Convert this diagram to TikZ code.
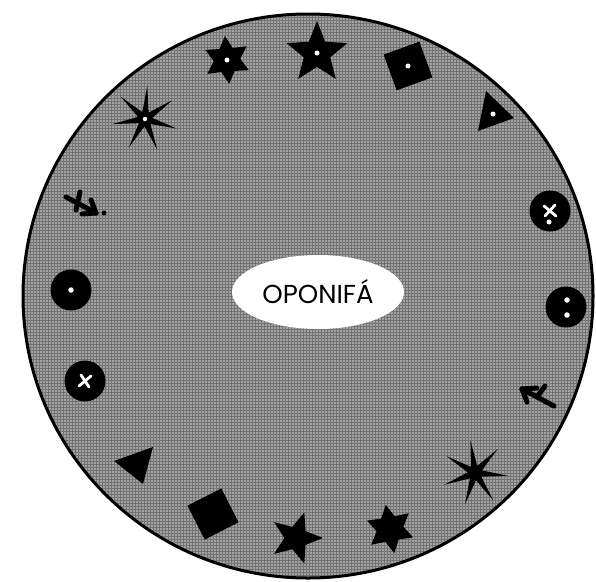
\documentclass[tikz,border=0pt]{standalone}
\usepackage{fontspec}
\setmainfont{Poppins}
\usetikzlibrary{shapes.geometric,patterns}
\begin{document}
\begin{tikzpicture}[x=1pt,y=-1pt,
  glyph/.style={fill=black,draw=none,inner sep=0pt},
  hole/.style={circle,fill=white,draw=none,inner sep=0pt,minimum size=5pt},
  disc/.style={glyph,circle,minimum size=41pt},
  fivestar/.style={glyph,star,star points=5,star point ratio=2.3},
  sixstar/.style={glyph,star,star points=6,star point ratio=1.8},
  spiky/.style={glyph,star,star points=7,star point ratio=4.5},
  sq/.style={glyph,rectangle,minimum size=38pt},
  stroke/.style={line width=5pt,line cap=round,line join=round},
  whitecross/.style={white,line width=2.8pt,line cap=round}]
\useasboundingbox (0,0) rectangle (596,581);
% board
\fill[black!36] (308,296) ellipse [x radius=285,y radius=282];
\fill[pattern=grid,pattern color=black!55] (308,296) ellipse [x radius=285,y radius=282];
\draw[line width=3pt] (308,296) ellipse [x radius=285,y radius=282];
% centre label
\node[ellipse,fill=white,draw=none,minimum width=172pt,minimum height=74pt,inner sep=0pt,font=\fontsize{26}{26}\selectfont] (lab) at (318,292) {OPONIFÁ};
% top row
\node[sixstar,minimum size=48pt,rotate=5] (s6a) at (227,60) {};
\node[hole] at (s6a.center) {};
\node[fivestar,minimum size=64pt] (s5a) at (317,53) {};
\node[hole] at (s5a.center) {};
\node[sq,rotate=20] (sqa) at (408,66) {};
\node[hole] at (sqa.center) {};
\coordinate (ta1) at (486,91);
\coordinate (ta2) at (514,118);
\coordinate (ta3) at (478,131);
\fill (ta1) -- (ta2) -- (ta3) -- cycle;
\node[hole,minimum size=5pt] (tah) at (493,114) {};
% right side
\node[disc] (da) at (550,211) {};
\draw[whitecross] ([shift={(-6,-5)}]da.center) -- ([shift={(6,5)}]da.center);
\draw[whitecross] ([shift={(-5,5)}]da.center) -- ([shift={(5,-6)}]da.center);
\node[hole,minimum size=5pt] at ([shift={(-1,11)}]da.center) {};
\node[disc] (db) at (566,307) {};
\node[hole,minimum size=5.5pt] at ([shift={(1,-7)}]db.center) {};
\node[hole,minimum size=5.5pt] at ([shift={(1,8)}]db.center) {};
\coordinate (ar1tail) at (554,406);
\coordinate (ar1tip) at (522,389);
\draw[stroke] (ar1tail) -- (ar1tip);
\draw[stroke] (ar1tip) -- +(15,-1);
\draw[stroke] (ar1tip) -- +(5,13);
\draw[stroke] (537,397) -- (545,386);
% bottom right
\node[spiky,minimum size=66pt,rotate=8] (spa) at (475,473) {};
\node[sixstar,minimum size=49pt,rotate=10] (s6b) at (390,529) {};
\node[fivestar,minimum size=54pt,rotate=-18] (s5b) at (296,538) {};
\node[sq,rotate=27,minimum size=38pt] (sqb) at (213,514) {};
\coordinate (tb1) at (114,461);
\coordinate (tb2) at (153,447);
\coordinate (tb3) at (143,484);
\fill (tb1) -- (tb2) -- (tb3) -- cycle;
% left side
\node[disc] (dc) at (85,381) {};
\draw[whitecross] ([shift={(-6,5)}]dc.center) -- ([shift={(6,-5)}]dc.center);
\draw[whitecross] ([shift={(-4,-6)}]dc.center) -- ([shift={(4,6)}]dc.center);
\node[disc] (dd) at (71,290) {};
\node[hole,minimum size=5.5pt] at (dd.center) {};
\coordinate (ar2tail) at (66,197);
\coordinate (ar2tip) at (96,213);
\draw[stroke] (ar2tail) -- (ar2tip);
\draw[stroke] (ar2tip) -- +(-5,-13);
\draw[stroke] (ar2tip) -- +(-14,1);
\draw[stroke] (80,192) -- (76,210);
\fill (104,213) circle (2.4pt);
\node[spiky,minimum size=66pt,rotate=-4] (spb) at (145,119) {};
\node[hole,minimum size=4.5pt] at (spb.center) {};
\end{tikzpicture}
\end{document}
